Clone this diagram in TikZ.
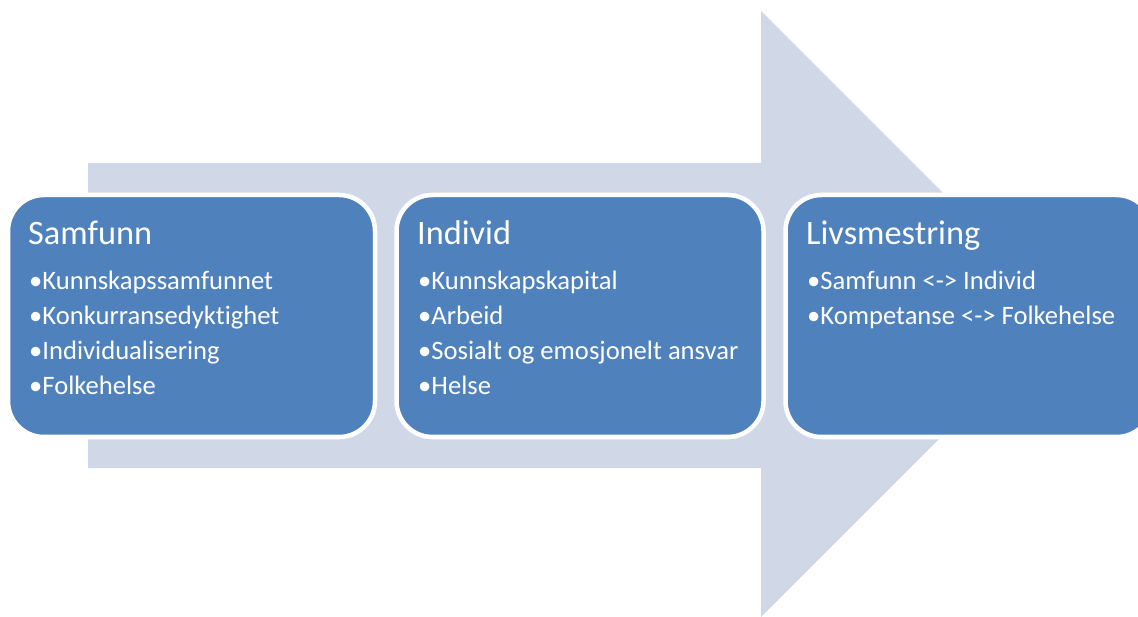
\documentclass[tikz,border=0pt]{standalone}
\usepackage{fontspec}
\setmainfont[Ligatures={NoCommon}]{Carlito}
\definecolor{boxblue}{HTML}{4F81BD}
\definecolor{arrowfill}{HTML}{D0D8E8}
\tikzset{
  box/.style={draw=white, line width=4.5pt, fill=boxblue, rounded corners=36pt,
    minimum width=367pt, minimum height=242pt, inner sep=0pt},
  title/.style={anchor=base west, text=white, inner sep=0pt, font=\fontsize{34.3}{40}\selectfont},
  item/.style={anchor=base west, text=white, inner sep=0pt, font=\fontsize{26.6}{30}\selectfont}
}
\begin{document}
\begin{tikzpicture}[x=1pt,y=-1pt]
\useasboundingbox (0,0) rectangle (1138,617);
\begin{scope}
\clip (0,0) rectangle (1138,617);
\fill[arrowfill] (88,163) -- (761,163) -- (761,11) -- (1064,314) -- (761,617) -- (761,468) -- (88,468) -- cycle;
\node[box] (b1) at (191.5,316) {};
\node[box] (b2) at (580,316) {};
\node[box] (b3) at (969,316) {};
\end{scope}
% box 1
\node[title] (t1) at (28,245) {Samfunn};
\node[item] (i11) at (29,290) {•Kunnskapssamfunnet};
\node[item] (i12) at (29,325) {•Konkurransedyktighet};
\node[item] (i13) at (29,360) {•Individualisering};
\node[item] (i14) at (29,395) {•Folkehelse};
% box 2
\node[title] (t2) at (417,245) {Individ};
\node[item] (i21) at (418,290) {•Kunnskapskapital};
\node[item] (i22) at (418,325) {•Arbeid};
\node[item] (i23) at (418,360) {•Sosialt og emosjonelt ansvar};
\node[item] (i24) at (418,395) {•Helse};
% box 3
\node[title] (t3) at (806,245) {Livsmestring};
\node[item] (i31) at (807,290) {•Samfunn <-> Individ};
\node[item] (i32) at (807,325) {•Kompetanse <-> Folkehelse};
\end{tikzpicture}
\end{document}
